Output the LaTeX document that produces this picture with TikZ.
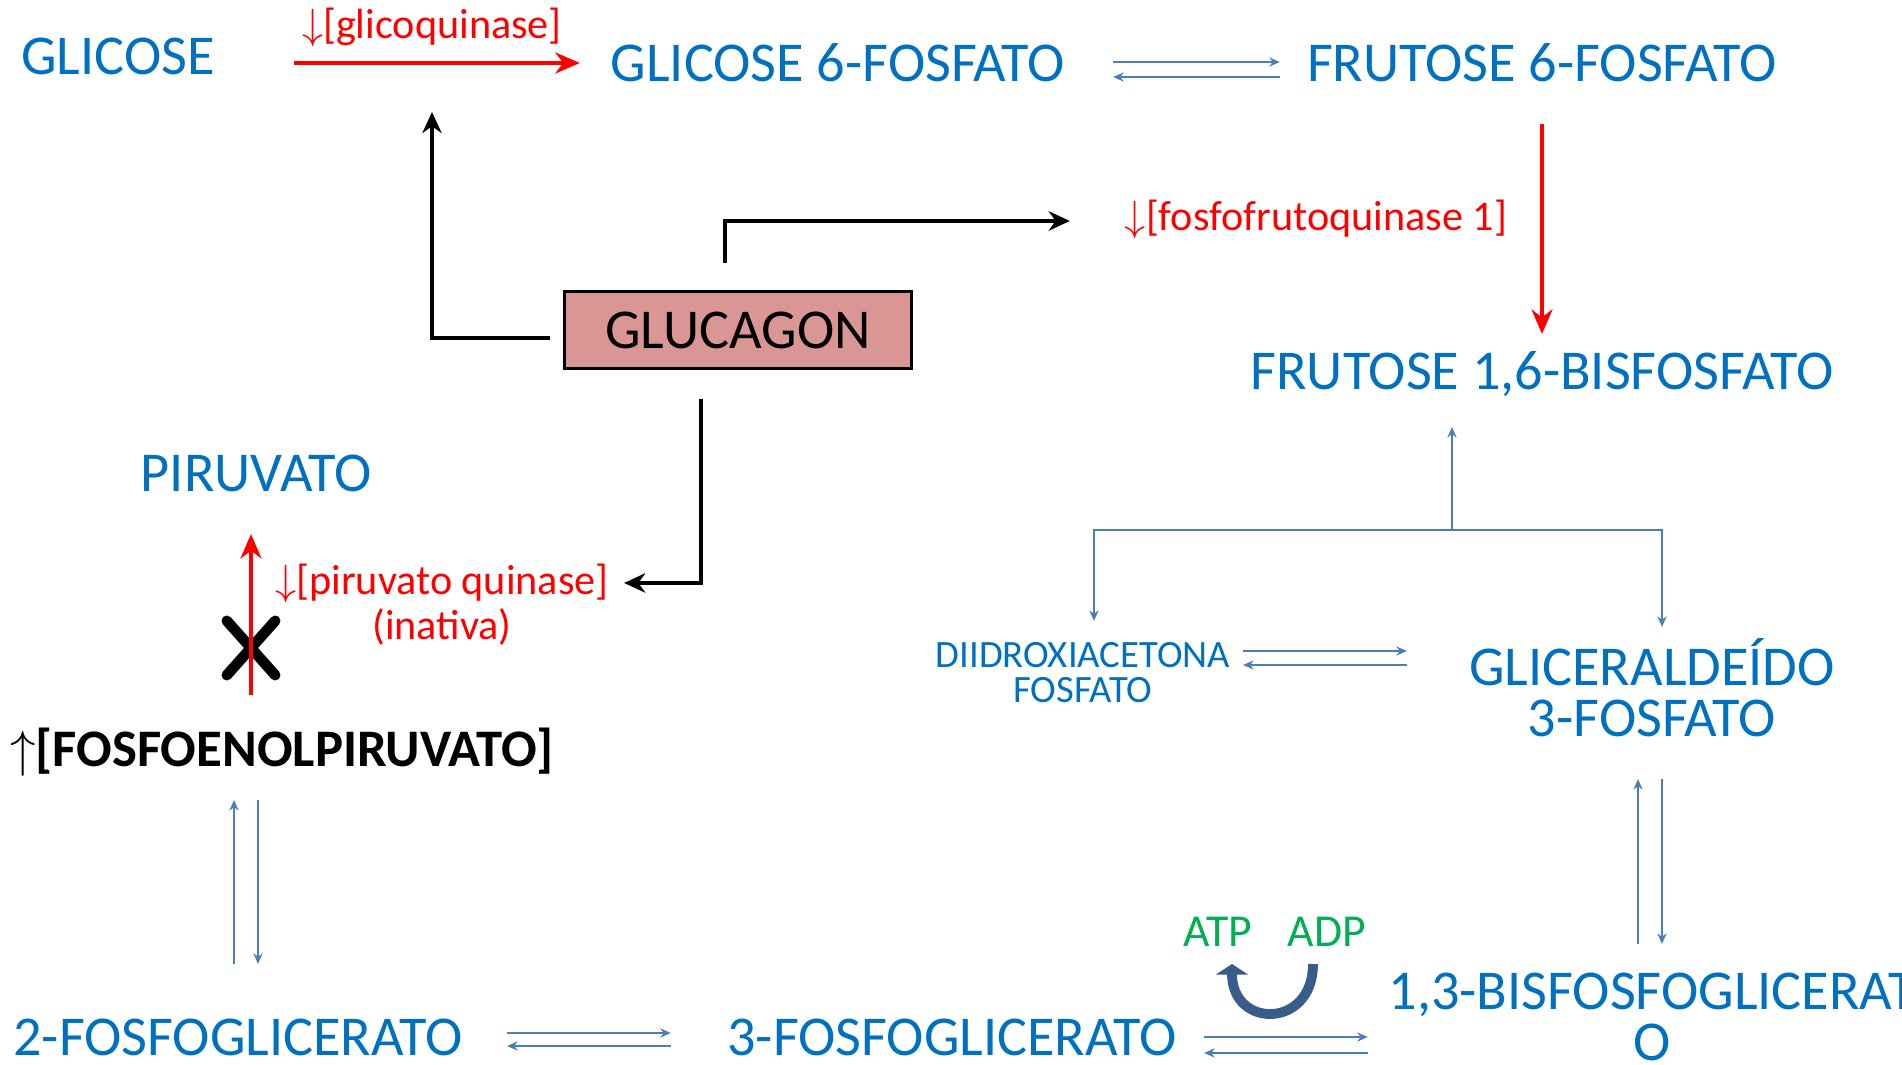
\documentclass[tikz,border=0pt]{standalone}
\usepackage{fontspec}
\setmainfont{Carlito}
\usetikzlibrary{arrows.meta, calc}
\usepackage{color}
\definecolor{met_blue}{RGB}{0,112,192}
\definecolor{flow_blue}{RGB}{74,126,187}
\definecolor{atp_green}{RGB}{0,176,80}
\definecolor{gluc_pink}{RGB}{217,150,148}
\definecolor{cyc_blue}{RGB}{56,93,138}

\begin{document}
\begin{tikzpicture}[x=0.01cm, y=-0.01cm, >={Stealth},
    every node/.style={inner sep=0pt},
    met/.style={text=met_blue, align=center, font=\fontsize{16}{14.5}\selectfont},
    metsmall/.style={text=met_blue, align=center, font=\fontsize{11}{10}\selectfont},
    enz/.style={text=red, font=\fontsize{12}{12}\selectfont},
    nuc/.style={text=atp_green, font=\fontsize{13}{13}\selectfont},
    gbox/.style={draw, fill=gluc_pink, line width=1pt, minimum width=3.47cm, minimum height=0.77cm, font=\fontsize{16}{16}\selectfont},
    flow/.style={-{Stealth[length=3pt, width=2.6pt]}, flow_blue, line width=0.7pt},
    ctrl/.style={-{Stealth[length=6pt, width=5.5pt]}, black, line width=1.1pt},
    enzarrow/.style={-{Stealth[length=7pt, width=6pt]}, red, line width=1pt}]
\useasboundingbox (0,0) rectangle (1902,1065);

\node[met] (GLI) at (118,56) {GLICOSE};
\node[met] (G6P) at (838,63) {GLICOSE 6-FOSFATO};
\node[met] (F6P) at (1542,63) {FRUTOSE 6-FOSFATO};
\node[met] (F16BP) at (1542,374) {FRUTOSE 1,6-BISFOSFATO};
\node[metsmall] (DHAP) at (1083,673) {DIIDROXIACETONA\\FOSFATO};
\node[met] (GAP) at (1652,688) {GLICERALDEÍDO\\3-FOSFATO};
\node[met] (BPG) at (1652,1017) {1,3-BISFOSFOGLICERAT\\O};
\node[met] (PG3) at (952,1037) {3-FOSFOGLICERATO};
\node[met] (PG2) at (238,1037) {2-FOSFOGLICERATO};
\node[font=\bfseries\fontsize{15}{15}\selectfont] (PEP) at (282,752) {$\uparrow$[FOSFOENOLPIRUVATO]};
\node[met] (PIR) at (256,473) {PIRUVATO};

\node[gbox] (GLUC) at (738,330) {GLUCAGON};
\node[enz] (GK) at (432,27) {$\downarrow$[glicoquinase]};
\node[enz] (PFK) at (1316,219) {$\downarrow$[fosfofrutoquinase 1]};
\node[enz] (PK) at (442,583) {$\downarrow$[piruvato quinase]};
\node[enz] (INAT) at (442,627) {(inativa)};
\node[nuc] (ATP) at (1218,932) {ATP};
\node[nuc] (ADP) at (1327,932) {ADP};
\node[minimum width=0.47cm, minimum height=0.53cm] (XM) at (251,648) {};

% glicolise
\draw[enzarrow, shorten <=1.76cm, shorten >=2.58cm] (GLI.center |- G6P.center) -- (G6P.center);
\draw[flow, shorten <=2.75cm, shorten >=2.62cm] ($(G6P.center)+(0,-1)$) -- ($(F6P.center)+(0,-1)$);
\draw[flow, shorten <=2.62cm, shorten >=2.75cm] ($(F6P.center)+(0,14)$) -- ($(G6P.center)+(0,14)$);
\draw[enzarrow, line width=0.9pt, shorten <=0.61cm, shorten >=0.40cm] (F6P.center) -- (F16BP.center);
\coordinate (SPL) at (1452,530);
\draw[flow, shorten >=0.53cm] (SPL) -- (SPL |- F16BP.center);
\draw[flow, shorten >=0.52cm] (SPL) -| ($(DHAP.center)+(11,0)$);
\draw[flow, shorten >=0.61cm] (SPL) -| ($(GAP.center)+(10,0)$);
\draw[flow, shorten <=1.60cm, shorten >=2.45cm] ($(DHAP.center)+(0,-22)$) -- ($(DHAP.center -| GAP.center)+(0,-22)$);
\draw[flow, shorten <=2.45cm, shorten >=1.60cm] ($(DHAP.center -| GAP.center)+(0,-8)$) -- ($(DHAP.center)+(0,-8)$);
\draw[flow, shorten <=0.73cm, shorten >=0.91cm] ($(BPG.center)+(-14,0)$) -- ($(GAP.center)+(-14,0)$);
\draw[flow, shorten <=0.91cm, shorten >=0.73cm] ($(GAP.center)+(10,0)$) -- ($(BPG.center)+(10,0)$);
\draw[flow, shorten <=2.52cm, shorten >=2.84cm] ($(PG3.center)+(0,0)$) -- ($(PG3.center -| BPG.center)+(0,0)$);
\draw[flow, shorten <=2.84cm, shorten >=2.52cm] ($(PG3.center -| BPG.center)+(0,16)$) -- ($(PG3.center)+(0,16)$);
\draw[flow, shorten <=2.69cm, shorten >=2.81cm] ($(PG2.center)+(0,-4)$) -- ($(PG3.center)+(0,-4)$);
\draw[flow, shorten <=2.81cm, shorten >=2.69cm] ($(PG3.center)+(0,9)$) -- ($(PG2.center)+(0,9)$);
\draw[flow, shorten <=0.73cm, shorten >=0.48cm] ($(PG2.center)+(-4,0)$) -- ($(PG2.center |- PEP.center)+(-4,0)$);
\draw[flow, shorten <=0.48cm, shorten >=0.73cm] ($(PG2.center |- PEP.center)+(20,0)$) -- ($(PG2.center)+(20,0)$);
\draw[-{Triangle[length=3pt, width=9pt]}, cyc_blue, line width=2.8pt] ($(ADP.center)+(-14,32)$) .. controls +(0,65) and +(0,65) .. ($(ATP.center)+(14,32)$);

% piruvato quinase bloqueada
\draw[black, line width=3pt, line cap=round] (XM.north west) -- (XM.south east) (XM.north east) -- (XM.south west);
\draw[enzarrow, line width=0.9pt, shorten <=0.57cm, shorten >=0.61cm] (XM.center |- PEP.center) -- (XM.center |- PIR.center);

% glucagon
\draw[ctrl] ($(GLUC.north)+(-13,-27)$) |- ($(PFK.center)+(0,2)$) [shorten >=2.46cm];
\draw[ctrl, shorten <=0.13cm, shorten >=0.85cm] ($(GLUC.west)+(0,8)$) -| (GK.center);
\draw[ctrl, shorten >=1.82cm] ($(GLUC.south)+(-37,29)$) |- (PK.center);
\end{tikzpicture}
\end{document}
